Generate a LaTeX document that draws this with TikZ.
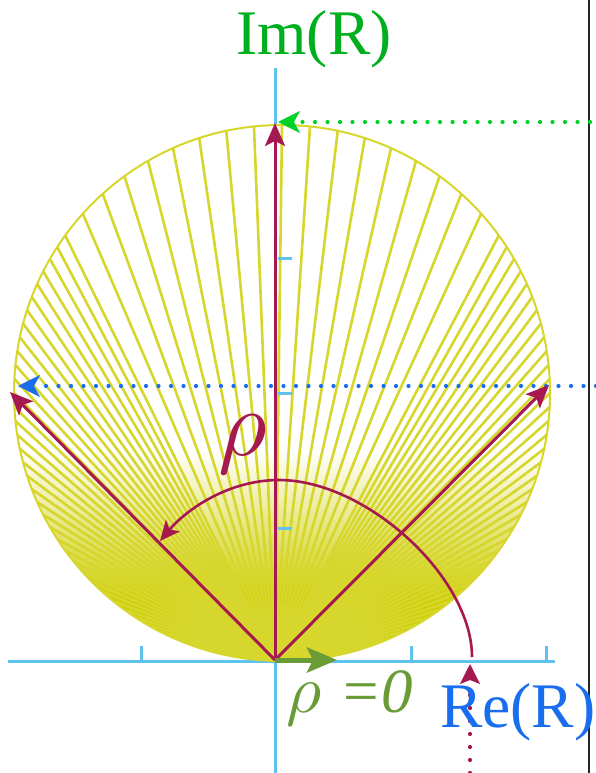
\documentclass[tikz,border=0pt]{standalone}
\usepackage{fontspec}
\usepackage{unicode-math}
\setmainfont{Liberation Serif}
\setmathfont{Latin Modern Math}
\usetikzlibrary{arrows.meta,calc}
\definecolor{mRed}{RGB}{165,25,80}
\definecolor{yFill}{RGB}{206,206,0}
\definecolor{yRay}{RGB}{214,214,45}
\definecolor{axBlue}{RGB}{95,195,240}
\definecolor{imGreen}{RGB}{0,175,30}
\definecolor{dotGreen}{RGB}{0,210,40}
\definecolor{reBlue}{RGB}{25,110,240}
\definecolor{rhoGreen}{RGB}{105,155,55}
\tikzset{
  axis/.style={axBlue, line width=3pt},
  tick/.style={axBlue, line width=3pt},
  ray/.style={yRay, line width=2.6pt},
  rim/.style={yRay, line width=2pt},
  marr/.style={mRed, line width=3pt, -{Stealth[length=23pt,width=20pt,inset=5pt]}},
  marc/.style={mRed, line width=2.6pt, -{Stealth[length=20pt,width=18pt,inset=5pt]}},
  dots/.style={line width=4.2pt, line cap=round, dash pattern=on 0pt off 12.5pt},
  lbl/.style={inner sep=0pt, outer sep=0pt}
}
\begin{document}
\begin{tikzpicture}[x=1pt,y=-1pt]
\useasboundingbox (0,0) rectangle (596,773);
\fill[white] (0,0) rectangle (596,773);

% key points
\coordinate (O) at (275,660);
\coordinate (C) at (282,393);
\coordinate (T) at (275,123);
\coordinate (L) at (10,392);
\coordinate (Rt) at (549,385);

% axes
\coordinate (xa) at (8,661);
\coordinate (xb) at (555,661);
\coordinate (ya) at (275,68);
\coordinate (yb) at (275,773);
\draw[axis] (xa) -- (xb);
\draw[axis] (ya) -- (yb);

% yellow disk
\begin{scope}
  \clip (C) circle (268);
  \fill[white] (C) circle (268);
  \shade[top color=white, bottom color=yFill] (0,450) rectangle (596,602);
  \fill[yFill] (0,601) rectangle (596,670);
  \foreach \a in {-54,-48,...,54} {
    \draw[ray] (O) -- ($(C)+(270+\a:268)$);
  }
  \foreach \a in {57,60,...,177} {
    \draw[ray] (O) -- ($(C)+(270+\a:268)$);
    \draw[ray] (O) -- ($(C)+(270-\a:268)$);
  }
\end{scope}
\draw[rim] (C) circle (268);

% ticks
\foreach \x in {141,411,546} { \draw[tick] (\x,661) -- (\x,646); }
\foreach \y in {258,393,528} { \draw[tick] (278,\y) -- (292,\y); }

% right border line
\draw[black!85, line width=2.6pt] (589,0) -- (589,773);

% dotted guide lines
\coordinate (gS) at (590,122);
\coordinate (gE) at (278,122);
\draw[dotGreen, dots] (gS) -- ($(gE)+(20,0)$);
\draw[dotGreen, line width=2pt, -{Stealth[length=22pt,width=22pt,inset=6pt]}] ($(gE)+(14,0)$) -- (gE);

\coordinate (bS) at (596,386);
\coordinate (bE) at (18,386);
\draw[reBlue, dots] (bS) -- ($(bE)+(22,0)$);
\draw[reBlue, line width=2pt, -{Stealth[length=22pt,width=22pt,inset=6pt]}] ($(bE)+(14,0)$) -- (bE);

% maroon rays
\draw[marr] (O) -- (T);
\draw[marr] (O) -- (L);
\draw[marr] (O) -- (Rt);

% angle arc
\coordinate (aS) at (472,657);
\coordinate (aM) at (279,480);
\coordinate (aE) at (160,541);
\draw[marc] (aS) .. controls (472,577) and (366,480) .. (aM)
  .. controls (228,480) and (186,510) .. (aE);

% maroon dotted arrow
\coordinate (mS) at (470,773);
\coordinate (mE) at (470,664);
\draw[mRed, dots, dash pattern=on 0pt off 13pt] (mS) -- ($(mE)+(0,20)$);
\draw[mRed, line width=2pt, -{Stealth[length=20pt,width=20pt,inset=4pt]}] ($(mE)+(0,14)$) -- (mE);

% green rho=0 arrow
\coordinate (gA) at (337,660);
\draw[rhoGreen, line width=5pt, -{Stealth[length=30pt,width=25pt,inset=6pt]}] (O) -- (gA);

% labels
\node[lbl, imGreen, anchor=base] (im) at (314,55) {\fontsize{63.5}{70}\selectfont Im(R)};
\node[lbl, reBlue, anchor=base west] (re) at (440,727) {\fontsize{63.5}{70}\selectfont Re(R)};
\node[lbl, rhoGreen, anchor=base west] (r0) at (286,712) {\fontsize{68}{70}\selectfont$\rho$ \fontsize{63}{70}\selectfont\itshape =0};
\node[lbl, mRed, anchor=base west] (rho) at (218,455) {\fontsize{94}{96}\selectfont$\rho$};
\end{tikzpicture}
\end{document}
